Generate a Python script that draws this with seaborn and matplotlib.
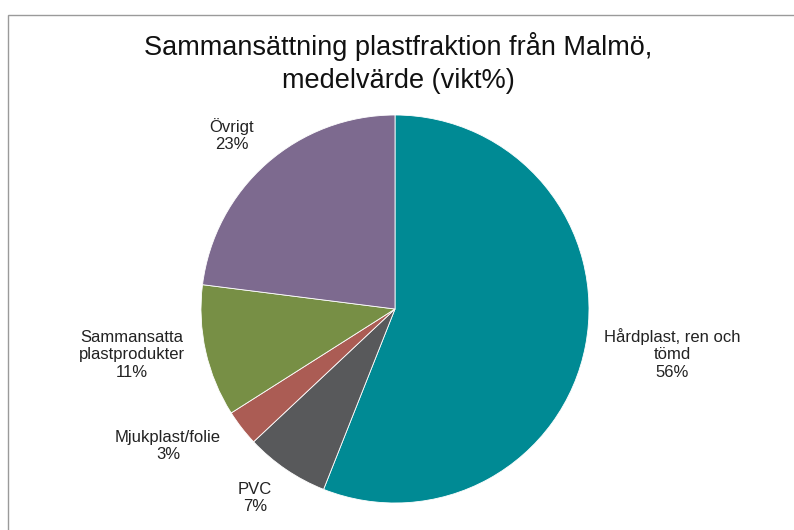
import matplotlib
matplotlib.use("Agg")
import matplotlib.pyplot as plt
import seaborn as sns
from matplotlib.patches import Rectangle

sns.set_theme(style="white")
plt.rcParams['font.family'] = ['Liberation Sans', 'DejaVu Sans']

categories = ["Hårdplast, ren och\ntömd", "PVC", "Mjukplast/folie",
              "Sammansatta\nplastprodukter", "Övrigt"]
values = [56, 7, 3, 11, 23]
colors = ["#008A94", "#58595B", "#AB5C54", "#778F45", "#7D6A8F"]
title = "Sammansättning plastfraktion från Malmö,\nmedelvärde (vikt%)"

# label layout positions (data units, pie radius = 1)
label_pos = [(1.428, -0.232), (-0.722, -0.974), (-1.170, -0.706), (-1.356, -0.237), (-0.840, 0.897)]

fig = plt.figure(figsize=(7.94, 5.30), dpi=100)
fig.patches.append(Rectangle((8/794, -0.1), 1.2, 1 - 15/530 + 0.1, transform=fig.transFigure,
                             fill=False, edgecolor="#9A9A9A", linewidth=1.0))
ax = fig.add_axes([201/794, 27/530, 388/794, 388/530])
wedges, _ = ax.pie(values, colors=colors, startangle=90, counterclock=False, radius=1,
                   wedgeprops=dict(linewidth=0.6, edgecolor="white"))
ax.set_xlim(-1, 1)
ax.set_ylim(-1, 1)
ax.set_aspect("equal")
ax.axis("off")

for cat, v, (x, y) in zip(categories, values, label_pos):
    ax.text(x, y, f"{cat}\n{v}%", ha="center", va="center", fontsize=12,
            color="#222222", linespacing=1.22, clip_on=False)

fig.text(398/794, 1 - 63/530, title, ha="center", va="center", fontsize=19.5,
         color="#111111", linespacing=1.35)

fig.savefig("out.png", dpi=100)
